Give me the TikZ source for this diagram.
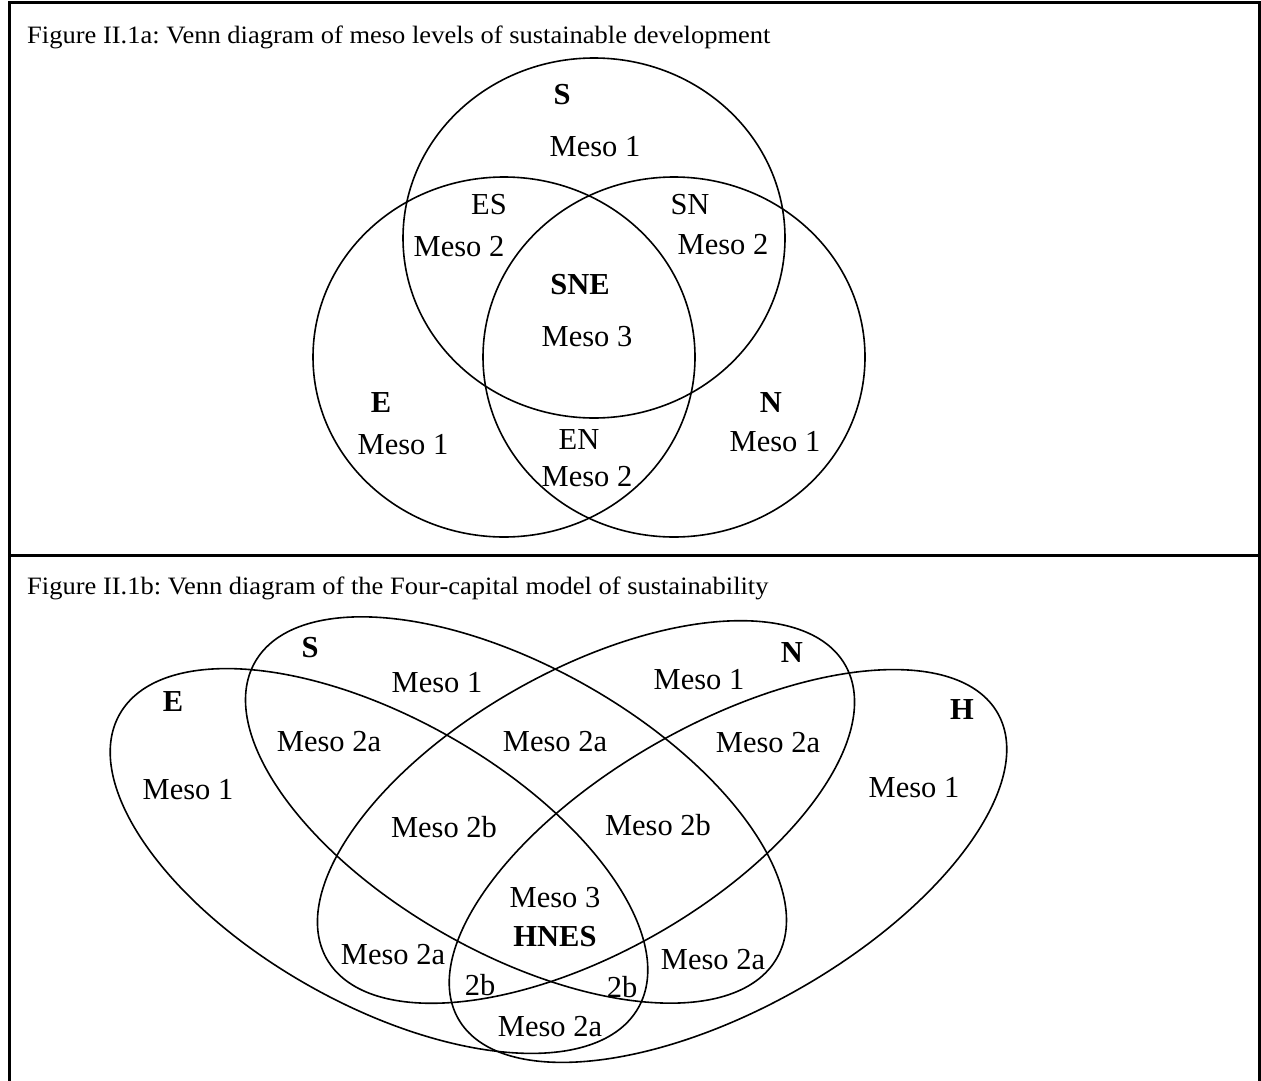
\documentclass[tikz,border=0pt]{standalone}
\usepackage{fontspec}
\setmainfont{Liberation Serif}
\frenchspacing
\begin{document}
\begin{tikzpicture}[x=1pt,y=1pt,
  lab/.style={font=\fontsize{30.5}{36}\selectfont, inner sep=0pt, anchor=center},
  blab/.style={font=\fontsize{30.5}{36}\selectfont\bfseries, inner sep=0pt, anchor=center},
  captxt/.style={font=\fontsize{25}{30}\selectfont, inner sep=0pt, anchor=base west, xscale=1.06},
  venn/.style={line width=1.6pt},
  frameline/.style={line width=3pt}]
\useasboundingbox (0,0) rectangle (1261,-1081);
% frame
\draw[frameline] (9.5,-1090) -- (9.5,-3) -- (1259.5,-3) -- (1259.5,-1090);
\draw[frameline] (9.5,-555) -- (1259.5,-555);
% captions
\node[captxt] (capa) at (27,-44) {Figure II.1a: Venn diagram of meso levels of sustainable development};
\node[captxt] (capb) at (27,-594) {Figure II.1b: Venn diagram of the Four-capital model of sustainability};
% part a circles
\coordinate (cS) at (594,-238);
\coordinate (cE) at (504,-357);
\coordinate (cN) at (674,-357);
\draw[venn] (cS) ellipse [x radius=191, y radius=180];
\draw[venn] (cE) ellipse [x radius=191, y radius=180];
\draw[venn] (cN) ellipse [x radius=191, y radius=180];
% part a labels
\node[blab] (aS) at (562,-95) {S};
\node[lab] (aS1) at (595,-147) {Meso 1};
\node[lab] (aES) at (489,-205) {ES};
\node[lab] (aES2) at (459,-247) {Meso 2};
\node[lab] (aSN) at (690,-205) {SN};
\node[lab] (aSN2) at (723,-245) {Meso 2};
\node[blab] (aSNE) at (580,-285) {SNE};
\node[lab] (aM3) at (587,-337) {Meso 3};
\node[blab] (aE) at (381,-403) {E};
\node[lab] (aE1) at (403,-445) {Meso 1};
\node[lab] (aEN) at (579,-440) {EN};
\node[lab] (aEN2) at (587,-477) {Meso 2};
\node[blab] (aN) at (771,-403) {N};
\node[lab] (aN1) at (775,-442) {Meso 1};
% part b ellipses
\coordinate (bE) at (379,-861);
\coordinate (bS) at (516,-810);
\coordinate (bN) at (586,-812);
\coordinate (bH) at (728,-866);
\draw[venn, rotate around={-29.5:(bE)}] (bE) ellipse [x radius=298, y radius=143];
\draw[venn, rotate around={-29.5:(bS)}] (bS) ellipse [x radius=300, y radius=143];
\draw[venn, rotate around={29.5:(bN)}] (bN) ellipse [x radius=298, y radius=141];
\draw[venn, rotate around={29.5:(bH)}] (bH) ellipse [x radius=310, y radius=142];
% part b labels
\node[blab] (bSl) at (310,-648) {S};
\node[blab] (bEl) at (173,-702) {E};
\node[lab] (bS1) at (437,-683) {Meso 1};
\node[lab] (bES) at (329,-742) {Meso 2a};
\node[lab] (bSN) at (555,-742) {Meso 2a};
\node[lab] (bE1) at (188,-790) {Meso 1};
\node[lab] (bESN) at (444,-827) {Meso 2b};
\node[blab] (bNl) at (792,-653) {N};
\node[lab] (bN1) at (699,-680) {Meso 1};
\node[blab] (bHl) at (962,-710) {H};
\node[lab] (bNH) at (768,-743) {Meso 2a};
\node[lab] (bH1) at (914,-788) {Meso 1};
\node[lab] (bSNH) at (658,-825) {Meso 2b};
\node[lab] (bM3) at (555,-898) {Meso 3};
\node[blab] (bHNES) at (555,-937) {HNES};
\node[lab] (bEN) at (393,-955) {Meso 2a};
\node[lab] (bENH) at (480,-985) {2b};
\node[lab] (bESH) at (622,-987) {2b};
\node[lab] (bSH) at (713,-960) {Meso 2a};
\node[lab] (bEH) at (550,-1027) {Meso 2a};
\end{tikzpicture}
\end{document}
